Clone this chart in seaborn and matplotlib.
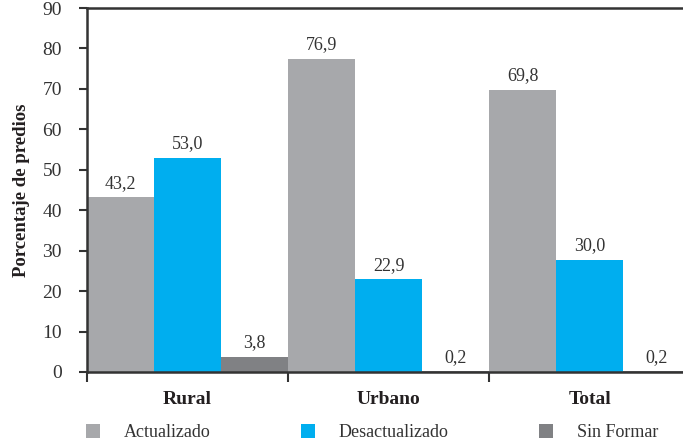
import matplotlib.pyplot as plt
import seaborn as sns
import pandas as pd
from matplotlib.ticker import FixedLocator

categories = ["Rural", "Urbano", "Total"]
series = ["Actualizado", "Desactualizado", "Sin Formar"]

# bar heights as drawn in the picture
actualizado = [43.2, 77.5, 69.8]
desactualizado = [53.0, 22.9, 27.7]
sin_formar = [3.8, 0.2, 0.2]

# printed value labels
actualizado_lbl = ["43,2", "76,9", "69,8"]
desactualizado_lbl = ["53,0", "22,9", "30,0"]
sin_formar_lbl = ["3,8", "0,2", "0,2"]

yticks = [0, 10, 20, 30, 40, 50, 60, 70, 80, 90]
colors = ["#A7A8AB", "#00AEEF", "#808184"]

rows = []
for name, vals in zip(series, [actualizado, desactualizado, sin_formar]):
    for cat, v in zip(categories, vals):
        rows.append({"zona": cat, "estado": name, "valor": v})
df = pd.DataFrame(rows)

sns.set_style("white")
plt.rcParams["font.family"] = ["Liberation Serif", "DejaVu Serif"]

fig = plt.figure(figsize=(6.83, 4.42), dpi=100)
ax = fig.add_axes([0.1274, 0.1584, 0.8836, 0.8235])

sns.barplot(data=df, x="zona", y="valor", hue="estado", order=categories,
            hue_order=series, palette=colors, width=1.0, saturation=1,
            errorbar=None, linewidth=0, ax=ax)

for cont, lbls in zip(ax.containers, [actualizado_lbl, desactualizado_lbl, sin_formar_lbl]):
    ax.bar_label(cont, labels=lbls, padding=4, fontsize=13, color="#333333")

ax.set_xlim(-0.5, 2.5)
ax.set_ylim(0, 90)
ax.set_yticks(yticks)
ax.tick_params(axis="y", labelsize=14, length=6, width=1.5, pad=12,
               colors="#333333", direction="out", left=True)
ax.set_ylabel("Porcentaje de predios", fontsize=13.5, fontweight="bold",
              color="#231f20", labelpad=9)
ax.set_xlabel("")
ax.tick_params(axis="x", which="major", length=0, pad=14, labelsize=14)
for t in ax.get_xticklabels():
    t.set_fontweight("bold")
    t.set_color("#231f20")
ax.xaxis.set_minor_locator(FixedLocator([-0.5, 0.5, 1.5]))
ax.tick_params(axis="x", which="minor", length=7, width=1.5,
               direction="out", bottom=True, color="#333333")

for side in ["left", "bottom", "top"]:
    ax.spines[side].set_color("#333333")
    ax.spines[side].set_linewidth(1.8)
ax.spines["right"].set_visible(False)

handles, labels = ax.get_legend_handles_labels()
ax.legend(handles, labels, loc="lower left", bbox_to_anchor=(0.102, -0.035),
          bbox_transform=fig.transFigure, ncol=3, frameon=False,
          fontsize=13, handlelength=0.8, handleheight=0.8,
          handletextpad=1.3, columnspacing=5.0, labelcolor="#333333")

fig.savefig("out.png", dpi=100)
